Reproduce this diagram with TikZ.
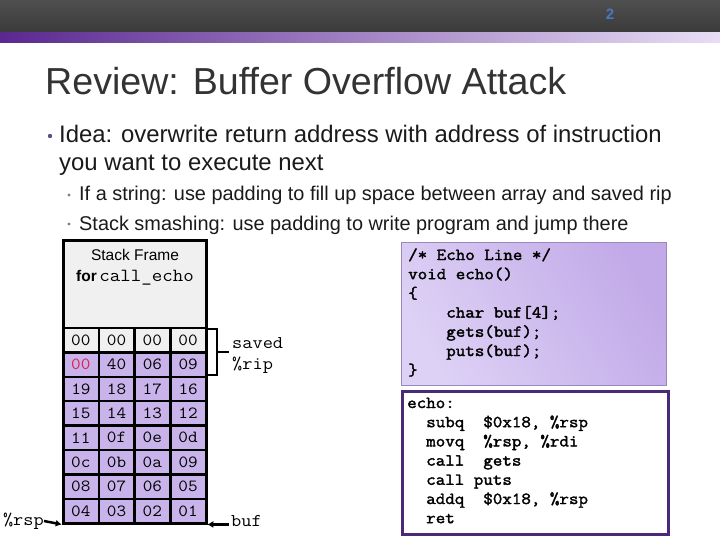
\documentclass[tikz,border=0pt]{standalone}
\usepackage{fontspec}
\setmainfont{Liberation Sans}
\newfontfamily\monor{Latin Modern Mono}[FakeStretch=1.1]
\newfontfamily\monob{Latin Modern Mono}[FakeStretch=1.1,FakeBold=2]
\usetikzlibrary{arrows.meta}
\definecolor{hdrtop}{HTML}{4F4F4F}
\definecolor{hdrbot}{HTML}{3A3A3A}
\definecolor{barL}{HTML}{5A2890}
\definecolor{barM}{HTML}{B28CDC}
\definecolor{barR}{HTML}{E8DEF5}
\definecolor{pgblue}{HTML}{4A78C0}
\definecolor{titlegray}{HTML}{333333}
\definecolor{txt}{HTML}{1A1A1A}
\definecolor{dotc}{HTML}{5E4C85}
\definecolor{framegray}{HTML}{F0F0F0}
\definecolor{cellpurple}{HTML}{C8B4EB}
\definecolor{redval}{HTML}{E0204A}
\definecolor{codeL}{HTML}{DDD1F5}
\definecolor{codeR}{HTML}{C2AAE8}
\definecolor{codeborder}{HTML}{9A88BB}
\definecolor{asmborder}{HTML}{4A2A78}
\tikzset{
  txtline/.style={anchor=base west, inner sep=0, text=txt},
  cellbox/.style={draw=black, line width=2.5, minimum width=35.75, minimum height=24.4, inner sep=0, fill=cellpurple, font=\monor\fontsize{17}{17}\selectfont},
  graycell/.style={cellbox, fill=framegray},
  codeline/.style={anchor=base west, inner sep=0, font=\monob\fontsize{16.8}{16.8}\selectfont},
  arr/.style={line width=2.5, -{Latex[length=6,width=7]}},
  monolabel/.style={inner sep=0, font=\monor\fontsize{18}{18}\selectfont},
}
\begin{document}
\begin{tikzpicture}[x=1pt,y=-1pt]
\useasboundingbox (0,0) rectangle (720,540);
% header
\shade[top color=hdrtop, bottom color=hdrbot] (0,0) rectangle (720,33);
\shade[left color=barL, middle color=barM, right color=barR] (0,33) rectangle (720,43);
\node[anchor=base, inner sep=0, text=pgblue, font=\bfseries\fontsize{15}{15}\selectfont] (pg) at (610,20) {2};
% title
\node[anchor=base west, inner sep=0, text=titlegray, font=\fontsize{37.6}{37.6}\selectfont] (title) at (45,95) {Review: Buffer Overflow Attack};
% bullets
\fill[dotc] (50,136) circle (2.2);
\node[txtline, font=\fontsize{23.9}{23.9}\selectfont] (b1) at (59,143) {Idea: overwrite return address with address of instruction};
\node[txtline, font=\fontsize{23.9}{23.9}\selectfont] (b1b) at (59,171) {you want to execute next};
\fill[gray] (69,195) circle (1.6);
\node[txtline, font=\fontsize{19.9}{19.9}\selectfont] (s1) at (79,201) {If a string: use padding to fill up space between array and saved rip};
\fill[gray] (69,224) circle (1.6);
\node[txtline, font=\fontsize{19.9}{19.9}\selectfont] (s2) at (79,230) {Stack smashing: use padding to write program and jump there};
% stack frame
\fill[framegray] (63,240) rectangle (206,328);
\node[inner sep=0, font=\fontsize{15.5}{15.5}\selectfont] (sf1) at (135,255) {Stack Frame};
\node[inner sep=0, anchor=base] (sf2) at (135,281) {\fontsize{15.5}{15.5}\selectfont\bfseries for\,\monor\mdseries\fontsize{18.5}{18.5}\selectfont call\_echo};
\foreach \row/\vals in {0/{00,00,00,00},1/{00,40,06,09},2/{19,18,17,16},3/{15,14,13,12},4/{11,0f,0e,0d},5/{0c,0b,0a,09},6/{08,07,06,05},7/{04,03,02,01}}{
  \foreach \v [count=\j from 0] in \vals {
    \ifnum\row=0
      \node[graycell] (c-\row-\j) at ({63+35.75*(\j+0.5)},{328+24.4*(\row+0.5)}) {\v};
    \else
      \ifnum\row=1 \ifnum\j=0
        \node[cellbox, text=redval] (c-\row-\j) at ({63+35.75*(\j+0.5)},{328+24.4*(\row+0.5)}) {\v};
      \else
        \node[cellbox] (c-\row-\j) at ({63+35.75*(\j+0.5)},{328+24.4*(\row+0.5)}) {\v};
      \fi\else
        \node[cellbox] (c-\row-\j) at ({63+35.75*(\j+0.5)},{328+24.4*(\row+0.5)}) {\v};
      \fi
    \fi
  }
}
\draw[line width=3] (63,240) rectangle (206,523.2);
% bracket
\coordinate (brT) at (207,329);
\coordinate (brB) at (207,375);
\coordinate (brM) at (217,352);
\coordinate (brE) at (229,352);
\draw[line width=2.5] (brT) -- (217,329) -- (217,375) -- (brB);
\draw[line width=2.5] (brM) -- (brE);
\node[monolabel, anchor=base west] (saved) at (232,348) {saved};
\node[monolabel, anchor=base west] (rip) at (232,369) {\%rip};
% pointers
\node[monolabel, anchor=east] (rsp) at (44,521) {\%rsp};
\node[monolabel, anchor=west] (buf) at (231,521) {buf};
\draw[arr] (rsp.east) -- (c-7-0.south west);
\draw[arr] (buf.west |- c-7-3.south east) ++(-2,0) coordinate (bufS) -- (c-7-3.south east);
% code box
\node[draw=codeborder, line width=0.8, left color=codeL, right color=codeR, shading angle=120, minimum width=265, minimum height=143, inner sep=0, anchor=north west] (cbox) at (401,242) {};
\foreach \t [count=\i from 0] in {{/* Echo Line */},{void echo()},{\{},{\phantom{xxxx}char buf[4];},{\phantom{xxxx}gets(buf);},{\phantom{xxxx}puts(buf);},{\}}}{
  \node[codeline] (code-\i) at (408,{260+19.2*\i}) {\t};
}
% asm box
\node[draw=asmborder, line width=3, fill=white, minimum width=266, minimum height=143, inner sep=0, anchor=north west] (abox) at (400.5,390) {};
\foreach \t [count=\i from 0] in {{echo:},{\phantom{xx}subq\phantom{xx}\$0x18, \%rsp},{\phantom{xx}movq\phantom{xx}\%rsp, \%rdi},{\phantom{xx}call\phantom{xx}gets},{\phantom{xx}call puts},{\phantom{xx}addq\phantom{xx}\$0x18, \%rsp},{\phantom{xx}ret}}{
  \node[codeline] (asm-\i) at (407,{408+19.2*\i}) {\t};
}
\end{tikzpicture}
\end{document}
